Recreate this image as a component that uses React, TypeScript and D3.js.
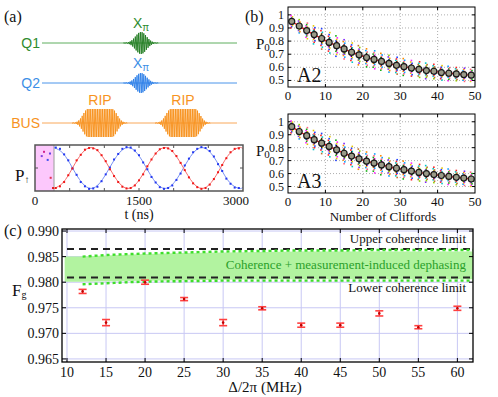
import React, { useRef, useEffect } from 'react';
import * as d3 from 'd3';

// (a) swap oscillation between Q1 and Q2 (time in ns, population)
const swapT = [300, 360, 420, 480, 540, 600, 660, 720, 780, 840, 900, 960, 1020, 1080, 1140, 1200, 1260, 1320, 1380, 1440, 1500, 1560, 1620, 1680, 1740, 1800, 1860, 1920, 1980, 2040, 2100, 2160, 2220, 2280, 2340, 2400, 2460, 2520, 2580, 2640, 2700, 2760, 2820, 2880, 2940];
const swapBlue = [0.98, 0.95, 0.82, 0.68, 0.49, 0.34, 0.17, 0.07, 0.01, 0.02, 0.06, 0.19, 0.35, 0.51, 0.70, 0.83, 0.95, 0.99, 0.98, 0.91, 0.80, 0.63, 0.47, 0.29, 0.16, 0.05, 0.01, 0.03, 0.09, 0.22, 0.37, 0.56, 0.72, 0.87, 0.95, 0.99, 0.97, 0.90, 0.77, 0.59, 0.43, 0.25, 0.13, 0.04, 0.03];
const swapRed = [0.03, 0.07, 0.17, 0.33, 0.49, 0.68, 0.81, 0.93, 0.97, 0.96, 0.92, 0.80, 0.66, 0.47, 0.31, 0.17, 0.06, 0.02, 0.03, 0.09, 0.21, 0.35, 0.54, 0.70, 0.84, 0.94, 0.97, 0.96, 0.90, 0.78, 0.62, 0.45, 0.28, 0.14, 0.05, 0.01, 0.03, 0.11, 0.24, 0.40, 0.57, 0.73, 0.87, 0.95, 0.96];
const fitT = [274, 407, 541, 674, 808, 941, 1074, 1208, 1341, 1475, 1608, 1741, 1875, 2008, 2142, 2275, 2408, 2542, 2675, 2808, 2942, 3000];
const fitBlue = [0.98, 0.84, 0.5, 0.16, 0.02, 0.16, 0.5, 0.84, 0.98, 0.84, 0.5, 0.16, 0.02, 0.16, 0.5, 0.84, 0.98, 0.84, 0.5, 0.16, 0.02, 0.05];
const fitRed = [0.02, 0.16, 0.5, 0.84, 0.98, 0.84, 0.5, 0.16, 0.02, 0.16, 0.5, 0.84, 0.98, 0.84, 0.5, 0.16, 0.02, 0.16, 0.5, 0.84, 0.98, 0.95];
const pinkT = [97, 130, 183, 216, 226, 260];
const pinkP = [0.78, 0.88, 0.69, 0.84, 0.27, 0.03];
const pinkColors = ['#8040e0', '#d02090', '#4050f0', '#6040e0', '#e03050', '#e02020'];
const swapEnd = 274;
const swapTicks = ['0', '1500', '3000'];

// (b) randomized benchmarking
const cliffords = [1, 3, 5, 7, 9, 11, 13, 15, 17, 19, 21, 23, 25, 27, 29, 31, 33, 35, 37, 39, 41, 43, 45, 47, 49];
const a2Mean = [0.950, 0.915, 0.880, 0.850, 0.820, 0.790, 0.765, 0.740, 0.715, 0.695, 0.675, 0.660, 0.645, 0.630, 0.615, 0.605, 0.595, 0.585, 0.575, 0.570, 0.560, 0.555, 0.550, 0.545, 0.540];
const a2Spread = [0.05, 0.055, 0.065, 0.075, 0.085, 0.085, 0.085, 0.08, 0.08, 0.08, 0.075, 0.075, 0.07, 0.07, 0.07, 0.07, 0.065, 0.065, 0.065, 0.06, 0.06, 0.06, 0.055, 0.055, 0.05];
const a3Mean = [0.962, 0.925, 0.893, 0.862, 0.835, 0.810, 0.783, 0.757, 0.735, 0.714, 0.696, 0.681, 0.667, 0.653, 0.641, 0.630, 0.619, 0.609, 0.600, 0.592, 0.585, 0.578, 0.571, 0.565, 0.558];
const a3Spread = [0.05, 0.06, 0.07, 0.08, 0.085, 0.085, 0.085, 0.085, 0.085, 0.085, 0.08, 0.08, 0.08, 0.075, 0.075, 0.075, 0.07, 0.07, 0.07, 0.065, 0.065, 0.065, 0.06, 0.06, 0.06];
const seqColors = ['#ff2020', '#ff8c00', '#e8c800', '#90d000', '#10b010', '#00c8c8', '#10a0ff', '#2040ff', '#8020ff', '#ff20ff', '#c07030', '#ff6080'];
const seqOffsets = [-0.95, -0.78, -0.62, -0.5, -0.38, -0.27, -0.17, -0.08, 0.0, 0.09, 0.19, 0.3, 0.42, 0.55, 0.7, 0.88];
const p0Ticks = ['0.5', '0.6', '0.7', '0.8', '0.9', '1'];
const cliffTicks = ['0', '10', '20', '30', '40', '50'];

// (c) gate fidelity vs detuning
const detuning = [12, 15, 20, 25, 30, 35, 40, 45, 50, 55, 60];
const fidelity = [0.9782, 0.9721, 0.9800, 0.9767, 0.9721, 0.9749, 0.9716, 0.9716, 0.9739, 0.9712, 0.9749];
const fidelityErr = [0.0004, 0.0006, 0.0004, 0.0003, 0.0006, 0.0003, 0.0004, 0.0004, 0.0005, 0.0003, 0.0004];
const bandX = [9.7, 12, 15, 20, 25, 30, 35, 40, 45, 50, 55, 60, 62];
const bandTop = [0.9850, 0.9850, 0.9852, 0.9855, 0.9857, 0.9858, 0.9859, 0.9860, 0.9860, 0.9860, 0.9860, 0.9860, 0.9860];
const bandBottom = [0.9801, 0.9801, 0.9802, 0.9803, 0.9804, 0.9805, 0.9806, 0.9806, 0.9806, 0.9806, 0.9806, 0.9806, 0.9806];
const dottedX = [12, 15, 20, 25, 30, 35, 40, 45, 50, 55, 60, 62];
const dottedTop = [0.9850, 0.9853, 0.9856, 0.9858, 0.9860, 0.9861, 0.9862, 0.9862, 0.9863, 0.9863, 0.9863, 0.9863];
const dottedBottom = [0.9796, 0.9798, 0.9801, 0.9802, 0.9803, 0.9803, 0.9803, 0.9803, 0.9803, 0.9803, 0.9803, 0.9803];
const upperLimit = 0.9865;
const lowerLimit = 0.9809;
const fgTicks = ['0.965', '0.970', '0.975', '0.980', '0.985', '0.990'];
const detTicks = ['10', '15', '20', '25', '30', '35', '40', '45', '50', '55', '60'];

const serif = "'Liberation Serif', 'Times New Roman', serif";
const sans = "'Liberation Sans', Arial, sans-serif";

const App = () => {
  const svgRef = useRef<SVGSVGElement>(null);

  useEffect(() => {
    const svg = d3.select(svgRef.current);
    svg.selectAll('*').remove();

    const label = (x: number, y: number, t: string, size: number, opts: any = {}) =>
      svg.append('text').attr('x', x).attr('y', y).text(t)
        .attr('font-family', opts.family || serif).attr('font-size', size)
        .attr('fill', opts.fill || '#111').attr('text-anchor', opts.anchor || 'start');

    // ---------- (a) pulse sequence ----------
    label(4, 22, '(a)', 16);

    const pulse = (y0: number, c: number, flat: number, sigma: number, amp: number, color: string) => {
      const pts: [number, number][] = [];
      const x0 = c - flat - 3.2 * sigma, x1 = c + flat + 3.2 * sigma;
      let s = 1;
      for (let x = x0; x <= x1; x += 0.85) {
        const d = Math.max(0, Math.abs(x - c) - flat);
        const env = amp * Math.exp(-(d * d) / (2 * sigma * sigma));
        pts.push([x, y0 - s * env]);
        s = -s;
      }
      svg.append('path').attr('d', d3.line()(pts)).attr('fill', 'none')
        .attr('stroke', color).attr('stroke-width', 0.9);
    };

    const rows = [
      { name: 'Q1', y: 43, text: '#2e8b2e', line: '#5fae5f' },
      { name: 'Q2', y: 83, text: '#3d8fe6', line: '#4a94ea' },
      { name: 'BUS', y: 123, text: '#f7931e', line: '#f9a85a' },
    ];
    rows.forEach(r => {
      svg.append('line').attr('x1', 42).attr('x2', 237).attr('y1', r.y).attr('y2', r.y)
        .attr('stroke', r.line).attr('stroke-width', 1);
      label(40, r.y + 5, r.name, 14, { family: sans, fill: r.text, anchor: 'end' });
    });
    pulse(43, 141, 0, 5.5, 11, '#1e7a1e');
    pulse(83, 141, 0, 5.5, 10, '#2a7ee8');
    pulse(123, 100, 12, 5, 14, '#f7901a');
    pulse(123, 183, 12, 5, 14, '#f7901a');

    const xpi = (x: number, y: number, fill: string) => {
      const t = svg.append('text').attr('x', x).attr('y', y).attr('font-family', sans)
        .attr('font-size', 14).attr('fill', fill).attr('text-anchor', 'middle');
      t.append('tspan').text('X');
      t.append('tspan').text('π').attr('font-size', 10).attr('dy', 3);
    };
    xpi(141, 28, '#2e8b2e');
    xpi(141, 68, '#3d8fe6');
    label(100, 105, 'RIP', 14, { family: sans, fill: '#f7931e', anchor: 'middle' });
    label(183, 105, 'RIP', 14, { family: sans, fill: '#f7931e', anchor: 'middle' });

    // swap oscillation box
    const xt = d3.scaleLinear().domain([0, 3000]).range([35, 243]);
    const yp = d3.scaleLinear().domain([-0.04, 1.04]).range([191, 145]);
    svg.append('rect').attr('x', xt(0)).attr('y', 145).attr('width', xt(swapEnd) - xt(0)).attr('height', 46)
      .attr('fill', '#fcc8fc');
    svg.append('line').attr('x1', xt(swapEnd)).attr('x2', xt(swapEnd)).attr('y1', 145).attr('y2', 191)
      .attr('stroke', '#aaa').attr('stroke-width', 1.2);
    const fitLine = d3.line<number>().x((_, i) => xt(fitT[i])).y(d => yp(d)).curve(d3.curveNatural);
    svg.append('path').attr('d', fitLine(fitBlue)).attr('fill', 'none').attr('stroke', '#7b93f5').attr('stroke-width', 1);
    svg.append('path').attr('d', fitLine(fitRed)).attr('fill', 'none').attr('stroke', '#f77070').attr('stroke-width', 1);
    swapT.forEach((t, i) => {
      svg.append('rect').attr('x', xt(t) - 1).attr('y', yp(swapBlue[i]) - 1).attr('width', 2).attr('height', 2).attr('fill', '#2438f0');
      svg.append('rect').attr('x', xt(t) - 1).attr('y', yp(swapRed[i]) - 1).attr('width', 2).attr('height', 2).attr('fill', '#f01818');
    });
    pinkT.forEach((t, i) => {
      svg.append('rect').attr('x', xt(t) - 1).attr('y', yp(pinkP[i]) - 1).attr('width', 2).attr('height', 2).attr('fill', pinkColors[i]);
    });
    [500, 1000, 1500, 2000, 2500].forEach(t => {
      svg.append('line').attr('x1', xt(t)).attr('x2', xt(t)).attr('y1', 191).attr('y2', 188).attr('stroke', '#555');
      svg.append('line').attr('x1', xt(t)).attr('x2', xt(t)).attr('y1', 145).attr('y2', 148).attr('stroke', '#555');
    });
    svg.append('line').attr('x1', 35).attr('x2', 38).attr('y1', yp(0.5)).attr('y2', yp(0.5)).attr('stroke', '#555');
    svg.append('line').attr('x1', 243).attr('x2', 240).attr('y1', yp(0.5)).attr('y2', yp(0.5)).attr('stroke', '#555');
    svg.append('rect').attr('x', 35).attr('y', 145).attr('width', 208).attr('height', 46)
      .attr('fill', 'none').attr('stroke', '#555').attr('stroke-width', 1.5);
    swapTicks.forEach(s => {
      const xx = Math.min(xt(+s), 236);
      label(xx, 205, s, 13, { anchor: 'middle' });
    });
    label(139, 219, 't (ns)', 14, { anchor: 'middle' });
    const pl = svg.append('text').attr('x', 15).attr('y', 181).attr('font-family', serif).attr('font-size', 17).attr('fill', '#111');
    pl.append('tspan').text('P');
    pl.append('tspan').text('↑').attr('font-size', 10).attr('dy', 2);

    // ---------- (b) randomized benchmarking ----------
    label(245, 22, '(b)', 16);
    const xc = d3.scaleLinear().domain([0, 50]).range([288, 475]);
    const drawRb = (top: number, bottom: number, means: number[], spreads: number[], name: string) => {
      const y = d3.scaleLinear().domain([0.45, 1.06]).range([bottom, top]);
      const g = svg.append('g');
      p0Ticks.forEach(s => {
        g.append('line').attr('x1', 288).attr('x2', 475).attr('y1', y(+s)).attr('y2', y(+s))
          .attr('stroke', '#999').attr('stroke-width', 0.8).attr('stroke-dasharray', '1,2');
        g.append('line').attr('x1', 288).attr('x2', 291).attr('y1', y(+s)).attr('y2', y(+s)).attr('stroke', '#000');
        g.append('line').attr('x1', 475).attr('x2', 472).attr('y1', y(+s)).attr('y2', y(+s)).attr('stroke', '#000');
        label(284, y(+s) + 4, s, 12, { anchor: 'end' });
      });
      cliffTicks.forEach(s => {
        if (+s > 0 && +s < 50) {
          g.append('line').attr('x1', xc(+s)).attr('x2', xc(+s)).attr('y1', top).attr('y2', bottom)
            .attr('stroke', '#999').attr('stroke-width', 0.8).attr('stroke-dasharray', '1,2');
          g.append('line').attr('x1', xc(+s)).attr('x2', xc(+s)).attr('y1', bottom).attr('y2', bottom - 3).attr('stroke', '#000');
          g.append('line').attr('x1', xc(+s)).attr('x2', xc(+s)).attr('y1', top).attr('y2', top + 3).attr('stroke', '#000');
        }
        label(xc(+s), bottom + 13, s, 13, { anchor: 'middle' });
      });
      cliffords.forEach((c, i) => {
        seqOffsets.forEach((o, j) => {
          const col = seqColors[(j * 7 + i * 5 + ((i * i) % 7)) % seqColors.length];
          g.append('rect').attr('x', xc(c) - 0.8 + (((j + i) % 3) - 1) * 0.7).attr('y', y(means[i] + o * spreads[i]) - 0.8)
            .attr('width', 1.6).attr('height', 1.6).attr('fill', col);
        });
      });
      g.append('path').attr('d', d3.line<number>().x((_, i) => xc(cliffords[i])).y(d => y(d)).curve(d3.curveMonotoneX)(means))
        .attr('fill', 'none').attr('stroke', '#ff1a1a').attr('stroke-width', 1.4);
      cliffords.forEach((c, i) => {
        const e = spreads[i] * 0.45;
        g.append('line').attr('x1', xc(c)).attr('x2', xc(c)).attr('y1', y(means[i] - e)).attr('y2', y(means[i] + e))
          .attr('stroke', '#111').attr('stroke-width', 1);
        g.append('circle').attr('cx', xc(c)).attr('cy', y(means[i])).attr('r', 3)
          .attr('fill', '#9a9a88').attr('stroke', '#1a1a1a').attr('stroke-width', 1.2);
      });
      g.append('rect').attr('x', 288).attr('y', top).attr('width', 187).attr('height', bottom - top)
        .attr('fill', 'none').attr('stroke', '#000').attr('stroke-width', 1);
      const pt = g.append('text').attr('x', 256).attr('y', (top + bottom) / 2 + 2).attr('font-family', serif)
        .attr('font-size', 15).attr('fill', '#111');
      pt.append('tspan').text('P');
      pt.append('tspan').text('0').attr('font-size', 11).attr('dy', 2);
      label(297, bottom - 5, name, 20);
    };
    drawRb(7, 87, a2Mean, a2Spread, 'A2');
    drawRb(114, 193, a3Mean, a3Spread, 'A3');
    label(383, 221, 'Number of Cliffords', 13, { anchor: 'middle' });

    // ---------- (c) fidelity vs detuning ----------
    label(4, 236, '(c)', 16);
    const xd = d3.scaleLinear().domain([9.36, 62]).range([62, 473]);
    const yf = d3.scaleLinear().domain([0.9644, 0.9904]).range([362, 229]);
    detTicks.forEach(s => {
      svg.append('line').attr('x1', xd(+s)).attr('x2', xd(+s)).attr('y1', 229).attr('y2', 362)
        .attr('stroke', '#c8c8f4').attr('stroke-width', 1);
    });
    fgTicks.forEach(s => {
      svg.append('line').attr('x1', 62).attr('x2', 473).attr('y1', yf(+s)).attr('y2', yf(+s))
        .attr('stroke', '#c8c8f4').attr('stroke-width', 1);
    });
    const area = d3.area<number>().x((_, i) => xd(bandX[i])).y0((_, i) => yf(bandBottom[i])).y1(d => yf(d));
    svg.append('path').attr('d', area(bandTop)).attr('fill', '#b2f3a0');
    [upperLimit, lowerLimit].forEach(v => {
      svg.append('line').attr('x1', xd(10)).attr('x2', 473).attr('y1', yf(v)).attr('y2', yf(v))
        .attr('stroke', '#222').attr('stroke-width', 2).attr('stroke-dasharray', '7,5');
    });
    const dl = d3.line<number>().x((_, i) => xd(dottedX[i])).y(d => yf(d)).curve(d3.curveMonotoneX);
    [dottedTop, dottedBottom].forEach(arr => {
      svg.append('path').attr('d', dl(arr)).attr('fill', 'none').attr('stroke', '#3ede2a')
        .attr('stroke-width', 2.4).attr('stroke-dasharray', '3,3');
    });
    detuning.forEach((d, i) => {
      const x = xd(d), y1 = yf(fidelity[i] - fidelityErr[i]), y2 = yf(fidelity[i] + fidelityErr[i]);
      svg.append('line').attr('x1', x).attr('x2', x).attr('y1', y1).attr('y2', y2).attr('stroke', '#ff3030').attr('stroke-width', 1.3);
      [y1, y2].forEach(yy => svg.append('line').attr('x1', x - 4).attr('x2', x + 4).attr('y1', yy).attr('y2', yy)
        .attr('stroke', '#ff4040').attr('stroke-width', 1.6));
      svg.append('circle').attr('cx', x).attr('cy', yf(fidelity[i])).attr('r', 1.3).attr('fill', '#c00000');
    });
    fgTicks.forEach(s => {
      svg.append('line').attr('x1', 62).attr('x2', 66).attr('y1', yf(+s)).attr('y2', yf(+s)).attr('stroke', '#000');
      svg.append('line').attr('x1', 473).attr('x2', 469).attr('y1', yf(+s)).attr('y2', yf(+s)).attr('stroke', '#000');
      label(59, yf(+s) + 5, s, 14, { anchor: 'end' });
    });
    detTicks.forEach(s => {
      svg.append('line').attr('x1', xd(+s)).attr('x2', xd(+s)).attr('y1', 362).attr('y2', 358).attr('stroke', '#000');
      svg.append('line').attr('x1', xd(+s)).attr('x2', xd(+s)).attr('y1', 229).attr('y2', 233).attr('stroke', '#000');
      label(xd(+s), 377, s, 14, { anchor: 'middle' });
    });
    svg.append('rect').attr('x', 62).attr('y', 229).attr('width', 411).attr('height', 133)
      .attr('fill', 'none').attr('stroke', '#000').attr('stroke-width', 1.3);
    label(466, 243, 'Upper coherence limit', 13, { anchor: 'end' });
    label(466, 269, 'Coherence + measurement-induced dephasing', 13, { anchor: 'end', fill: '#2aa02a' });
    label(466, 292, 'Lower coherence limit', 13, { anchor: 'end' });
    const fg = svg.append('text').attr('x', 12).attr('y', 296).attr('font-family', serif).attr('font-size', 17).attr('fill', '#111');
    fg.append('tspan').text('F');
    fg.append('tspan').text('g').attr('font-size', 10).attr('dy', 2);
    label(265, 392, 'Δ/2π (MHz)', 15, { anchor: 'middle' });
  }, []);

  return <svg ref={svgRef} width={498} height={397} style={{ position: 'absolute', left: 0, top: 0, background: '#fff' }} />;
};

export default App;
